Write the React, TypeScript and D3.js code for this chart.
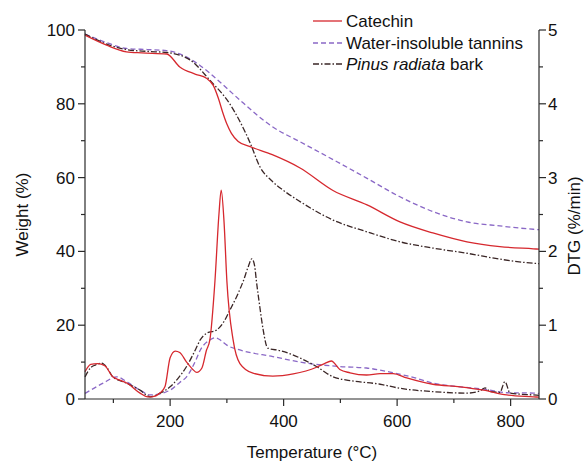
import React from "react";
import * as d3 from "d3";

// ---- Data ----
const tgCatechinT = [50, 88, 123, 150, 194, 217, 245, 264, 276, 285, 293, 300, 308, 320, 341, 380, 429, 487, 547, 605, 663, 723, 781, 840, 850];
const tgCatechinW = [98.6, 95.9, 94.1, 93.8, 93.5, 90, 88, 86.9, 85, 81.5, 77.5, 74.5, 72, 69.8, 68.4, 66.2, 62.6, 56.5, 52.6, 48, 45, 42.6, 41.3, 40.7, 40.6];

const tgTanninsT = [50, 88, 123, 160, 194, 222, 247, 270, 300, 323, 381, 429, 494, 547, 605, 663, 723, 781, 840, 850];
const tgTanninsW = [98.9, 96.6, 95, 94.7, 94.4, 93.2, 91, 88.3, 84.2, 81, 73.7, 69.7, 64.3, 59.8, 54.8, 50.8, 48, 46.9, 46, 45.9];

const tgPinusT = [50, 88, 123, 160, 194, 235, 270, 305, 341, 358, 380, 400, 429, 487, 547, 605, 663, 723, 781, 840, 850];
const tgPinusW = [98.9, 96.2, 94.7, 94.2, 93.9, 91.9, 86.4, 80, 69.4, 63, 59, 56.5, 53.5, 48.5, 45.3, 42.6, 40.9, 39.5, 37.9, 36.8, 36.7];

// DTG in %/min
const dtgCatechinT = [50, 60, 72, 85, 99, 110, 125, 147, 160, 168, 182, 191, 200, 209, 217, 229, 240, 247, 256, 264, 270, 279, 286, 290, 295, 300, 311, 323, 346, 381, 417, 458, 472, 484, 499, 517, 546, 570, 593, 617, 663, 711, 752, 793, 840, 850];
const dtgCatechinD = [0.37, 0.47, 0.48, 0.45, 0.30, 0.26, 0.21, 0.08, 0.03, 0.03, 0.08, 0.17, 0.56, 0.65, 0.63, 0.50, 0.40, 0.36, 0.42, 0.66, 0.80, 1.6, 2.5, 2.83, 2.4, 1.6, 0.8, 0.48, 0.35, 0.31, 0.34, 0.43, 0.48, 0.515, 0.40, 0.355, 0.325, 0.345, 0.345, 0.285, 0.20, 0.165, 0.12, 0.055, 0.03, 0.025];

const dtgTanninsT = [50, 82, 106, 125, 147, 165, 200, 217, 229, 245, 253, 270, 280, 290, 300, 323, 381, 441, 499, 546, 593, 630, 663, 711, 752, 793, 840, 850];
const dtgTanninsD = [0.075, 0.215, 0.30, 0.225, 0.12, 0.055, 0.12, 0.225, 0.30, 0.52, 0.66, 0.80, 0.83, 0.79, 0.73, 0.665, 0.575, 0.485, 0.44, 0.42, 0.355, 0.29, 0.215, 0.165, 0.135, 0.085, 0.08, 0.075];

const dtgPinusT = [50, 60, 68, 79, 90, 99, 120, 147, 165, 185, 200, 215, 229, 245, 253, 264, 282, 295, 305, 318, 329, 338, 344, 349, 352, 358, 364, 372, 394, 417, 429, 458, 487, 517, 570, 605, 663, 723, 746, 755, 764, 781, 790, 799, 840, 850];
const dtgPinusD = [0.30, 0.425, 0.46, 0.485, 0.41, 0.30, 0.225, 0.12, 0.03, 0.09, 0.165, 0.29, 0.44, 0.675, 0.80, 0.89, 0.935, 1.05, 1.2, 1.4, 1.6, 1.8, 1.9, 1.8, 1.6, 1.25, 0.935, 0.69, 0.655, 0.595, 0.555, 0.44, 0.30, 0.25, 0.20, 0.145, 0.10, 0.08, 0.11, 0.15, 0.10, 0.09, 0.235, 0.08, 0.055, 0.05];

const xMajorTicks = [200, 400, 600, 800];
const xMinorTicks = [100, 300, 500, 700];
const yLeftMajor = [0, 20, 40, 60, 80, 100];
const yLeftMinor = [10, 30, 50, 70, 90];
const yRightMajor = [0, 1, 2, 3, 4, 5];
const yRightMinor = [0.5, 1.5, 2.5, 3.5, 4.5];

const legendLabels = ["Catechin", "Water-insoluble tannins", "Pinus radiata bark"];

const RED = "#d6282e";
const PURPLE = "#8a68c6";
const DARK = "#3a2626";
const AXIS = "#2a2a2a";
const FONT = "'Liberation Sans', Arial, Helvetica, sans-serif";

export default function App() {
  const W = 585, H = 461;
  const left = 85, right = 539, top = 30, bottom = 399;
  const x = d3.scaleLinear().domain([50, 850]).range([left, right]);
  const yL = d3.scaleLinear().domain([0, 100]).range([bottom, top]);
  const yR = d3.scaleLinear().domain([0, 5]).range([bottom, top]);

  const mk = (ts: number[], vs: number[], ys: d3.ScaleLinear<number, number>) => {
    const pts: [number, number][] = ts.map((t, i) => [t, vs[i]]);
    return d3
      .line<[number, number]>()
      .x((d) => x(d[0]))
      .y((d) => ys(d[1]))
      .curve(d3.curveMonotoneX)(pts) as string;
  };

  const series = [
    { d: mk(tgTanninsT, tgTanninsW, yL), color: PURPLE, dash: "5,3" },
    { d: mk(dtgTanninsT, dtgTanninsD, yR), color: PURPLE, dash: "5,3" },
    { d: mk(tgPinusT, tgPinusW, yL), color: DARK, dash: "6,2,1.5,2" },
    { d: mk(dtgPinusT, dtgPinusD, yR), color: DARK, dash: "6,2,1.5,2" },
    { d: mk(tgCatechinT, tgCatechinW, yL), color: RED, dash: undefined },
    { d: mk(dtgCatechinT, dtgCatechinD, yR), color: RED, dash: undefined },
  ];

  const legendStyles = [
    { color: RED, dash: undefined },
    { color: PURPLE, dash: "5,3" },
    { color: DARK, dash: "6,2,1.5,2" },
  ];
  const legendY = [21, 43, 64];

  return (
    <svg
      width={W}
      height={H}
      style={{ position: "absolute", left: 0, top: 0, background: "#fff" }}
      fontFamily={FONT}
    >
      {/* curves */}
      {series.map((s, i) => (
        <path key={i} d={s.d} fill="none" stroke={s.color} strokeWidth={1.3} strokeDasharray={s.dash} />
      ))}

      {/* axes */}
      <g stroke={AXIS} strokeWidth={1.2}>
        <line x1={left} y1={top} x2={left} y2={bottom} />
        <line x1={right} y1={top} x2={right} y2={bottom} />
        <line x1={left} y1={bottom} x2={right} y2={bottom} />
        {xMajorTicks.map((t) => (
          <line key={"xm" + t} x1={x(t)} x2={x(t)} y1={bottom} y2={bottom + 7} />
        ))}
        {xMinorTicks.map((t) => (
          <line key={"xn" + t} x1={x(t)} x2={x(t)} y1={bottom} y2={bottom + 4} />
        ))}
        {yLeftMajor.map((t) => (
          <line key={"lm" + t} x1={left - 7} x2={left} y1={yL(t)} y2={yL(t)} />
        ))}
        {yLeftMinor.map((t) => (
          <line key={"ln" + t} x1={left - 4} x2={left} y1={yL(t)} y2={yL(t)} />
        ))}
        {yRightMajor.map((t) => (
          <line key={"rm" + t} x1={right} x2={right + 7} y1={yR(t)} y2={yR(t)} />
        ))}
        {yRightMinor.map((t) => (
          <line key={"rn" + t} x1={right} x2={right + 4} y1={yR(t)} y2={yR(t)} />
        ))}
      </g>

      {/* tick labels */}
      <g fontSize={17} fill="#111">
        {xMajorTicks.map((t) => (
          <text key={"xl" + t} x={x(t)} y={427} textAnchor="middle">
            {t}
          </text>
        ))}
        {yLeftMajor.map((t) => (
          <text key={"ll" + t} x={left - 10} y={yL(t) + 6} textAnchor="end">
            {t}
          </text>
        ))}
        {yRightMajor.map((t) => (
          <text key={"rl" + t} x={right + 9} y={yR(t) + 6} textAnchor="start">
            {t}
          </text>
        ))}
      </g>

      {/* axis titles */}
      <g fontSize={17} fill="#111">
        <text x={(left + right) / 2} y={458} textAnchor="middle">
          Temperature (°C)
        </text>
        <text transform={`translate(28,${(top + bottom) / 2}) rotate(-90)`} textAnchor="middle">
          Weight (%)
        </text>
        <text transform={`translate(580,226) rotate(-90)`} textAnchor="middle">
          DTG (%/min)
        </text>
      </g>

      {/* legend */}
      <g fontSize={17} fill="#111">
        {legendLabels.map((lab, i) => (
          <g key={lab}>
            <line
              x1={313}
              x2={342}
              y1={legendY[i]}
              y2={legendY[i]}
              stroke={legendStyles[i].color}
              strokeWidth={1.3}
              strokeDasharray={legendStyles[i].dash}
            />
            <text x={346} y={legendY[i] + 6}>
              {i === 2 ? (
                <>
                  <tspan fontStyle="italic">Pinus radiata</tspan>
                  <tspan> bark</tspan>
                </>
              ) : (
                lab
              )}
            </text>
          </g>
        ))}
      </g>
    </svg>
  );
}
